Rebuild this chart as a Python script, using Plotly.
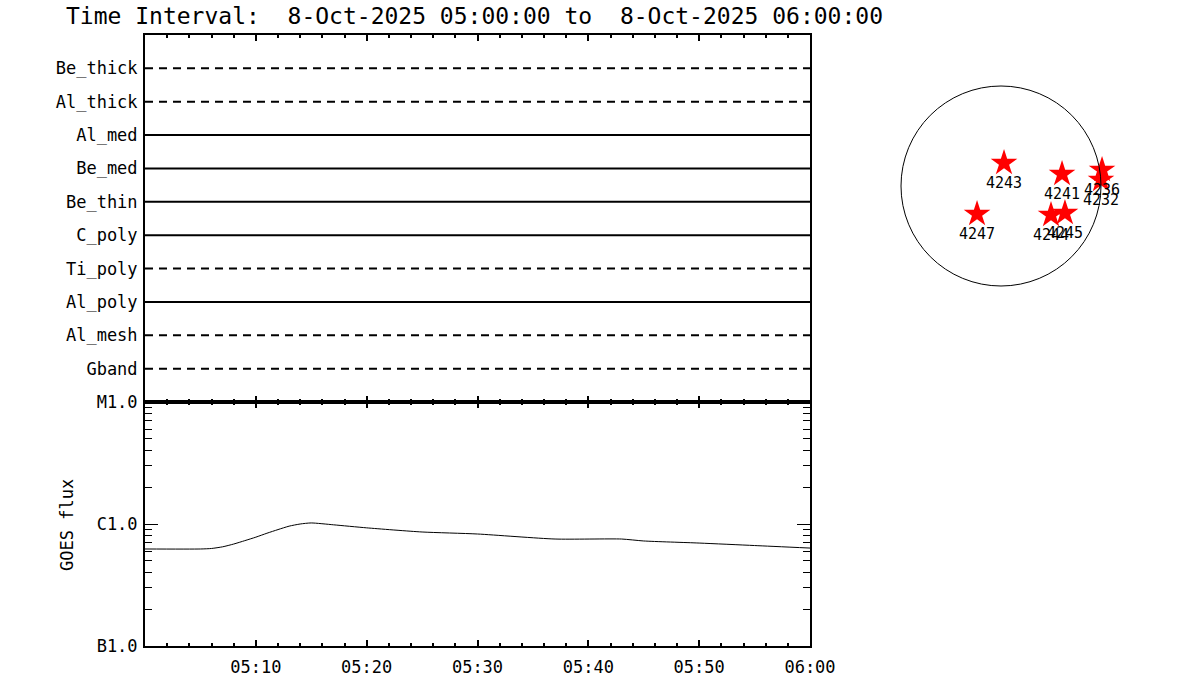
import plotly.graph_objects as go

# ---------------- data ----------------
DATE = "2025-10-08"
T_START = "05:00:00"
T_END = "06:00:00"

# filter channels, bottom (y=1) to top (y=10)
channels = ["Gband", "Al_mesh", "Al_poly", "Ti_poly", "C_poly",
            "Be_thin", "Be_med", "Al_med", "Al_thick", "Be_thick"]
dashed_channels = ["Gband", "Al_mesh", "Ti_poly", "Al_thick", "Be_thick"]

# GOES 1-8 A flux
goes_times = ["05:00", "05:05", "05:06", "05:07", "05:08", "05:09", "05:10",
              "05:11", "05:12", "05:13", "05:14", "05:15", "05:17", "05:20",
              "05:25", "05:30", "05:37", "05:43", "05:45", "05:50", "05:55",
              "06:00"]
goes_flux = [6.24e-7, 6.24e-7, 6.3e-7, 6.5e-7, 6.85e-7, 7.3e-7, 7.8e-7,
             8.4e-7, 9.0e-7, 9.6e-7, 1.0e-6, 1.02e-6, 9.85e-7, 9.3e-7,
             8.6e-7, 8.28e-7, 7.53e-7, 7.53e-7, 7.26e-7, 6.98e-7, 6.66e-7,
             6.35e-7]

goes_tickvals = [1e-7, 1e-6, 1e-5]
goes_ticktext = ["B1.0", "C1.0", "M1.0"]

time_ticks = ["05:10", "05:20", "05:30", "05:40", "05:50", "06:00"]

# active regions (arcsec from disk centre)
RSUN = 960.0
region_ids = ["4243", "4241", "4236", "4232", "4247", "4244", "4245"]
region_x = [29, 586, 970, 960, -230, 480, 614]
region_y = [221, 115, 154, 58, -269, -278, -259]

title_text = "Time Interval:  8-Oct-2025 05:00:00 to  8-Oct-2025 06:00:00"

# ---------------- figure ----------------
W, H = 1200, 700
FONT = "DejaVu Sans Mono"


def ts(hm):
    if len(hm) == 5:
        hm = hm + ":00"
    return f"{DATE} {hm}"


t0, t1 = ts(T_START), ts(T_END)

fig = go.Figure()

for i, name in enumerate(channels):
    fig.add_trace(go.Scatter(
        x=[t0, t1], y=[i + 1, i + 1], mode="lines",
        line=dict(color="black", width=2,
                  dash="8px,6px" if name in dashed_channels else "solid"),
        xaxis="x", yaxis="y", hoverinfo="skip"))

fig.add_trace(go.Scatter(
    x=[ts(t) for t in goes_times], y=goes_flux, mode="lines",
    line=dict(color="black", width=1, shape="spline", smoothing=0.6),
    xaxis="x2", yaxis="y2"))

fig.add_trace(go.Scatter(
    x=region_x, y=region_y, mode="markers+text", text=region_ids,
    textposition="bottom center",
    textfont=dict(family=FONT, size=15, color="black"),
    marker=dict(symbol="star", size=20, color="red", line=dict(width=0)),
    xaxis="x3", yaxis="y3"))

fig.add_shape(type="circle", xref="x3", yref="y3",
              x0=-RSUN, x1=RSUN, y0=-RSUN, y1=RSUN,
              line=dict(color="black", width=1))

xdom = [145 / W, 810 / W]
top_dom = [1 - 402 / H, 1 - 35 / H]
bot_dom = [1 - 646 / H, 1 - 402 / H]
tickfont = dict(family=FONT, size=17, color="black")

common_x = dict(
    domain=xdom, type="date", range=[t0, t1], automargin=False,
    tickmode="array", tickvals=[ts(t) for t in time_ticks],
    ticks="inside", ticklen=6, tickwidth=2, tickcolor="black",
    minor=dict(ticks="inside", ticklen=3, tickwidth=2, tickcolor="black",
               dtick=120000, tick0=t0, showgrid=False),
    showline=True, linewidth=2, linecolor="black", mirror="ticks",
    showgrid=False, zeroline=False, tickfont=tickfont)

fig.update_layout(
    width=W, height=H,
    margin=dict(l=0, r=0, t=0, b=0, pad=0, autoexpand=False),
    paper_bgcolor="white", plot_bgcolor="white", showlegend=False,
    xaxis=dict(common_x, anchor="y", showticklabels=False),
    xaxis2=dict(common_x, anchor="y2", ticktext=time_ticks,
                ticklabelstandoff=5),
    yaxis=dict(domain=top_dom, range=[0, 11], tickmode="array",
               tickvals=list(range(1, len(channels) + 1)), ticktext=channels,
               ticks="", showline=True, linewidth=2, linecolor="black",
               mirror=True, showgrid=False, zeroline=False, automargin=False,
               tickfont=tickfont, ticklabelstandoff=2),
    yaxis2=dict(domain=bot_dom, type="log", range=[-7, -5],
                tickmode="array", tickvals=goes_tickvals,
                ticktext=goes_ticktext, ticks="inside", ticklen=13,
                tickwidth=1, tickcolor="black", automargin=False,
                minor=dict(ticks="inside", ticklen=7, tickwidth=1,
                           tickcolor="black",
                           tickvals=[k * 10.0 ** e for e in (-7, -6)
                                     for k in range(2, 10)],
                           showgrid=False),
                showline=True, linewidth=2, linecolor="black",
                mirror="ticks", showgrid=False, zeroline=False,
                tickfont=tickfont, ticklabelstandoff=2),
    xaxis3=dict(domain=[876 / W, 1126 / W], range=[-1200, 1200],
                visible=False, anchor="y3", automargin=False),
    yaxis3=dict(domain=[1 - 311 / H, 1 - 61 / H], range=[-1200, 1200],
                visible=False, anchor="x3", automargin=False),
    annotations=[
        dict(text=title_text, xref="paper", yref="paper", x=64 / W,
             y=1 - 16 / H, xanchor="left", yanchor="middle",
             showarrow=False, font=dict(family=FONT, size=23, color="black")),
        dict(text="GOES flux", xref="paper", yref="paper", x=67 / W,
             y=1 - 525 / H, xanchor="center", yanchor="middle",
             textangle=-90, showarrow=False,
             font=dict(family=FONT, size=17, color="black")),
    ],
)

fig.write_html("out.html", config={"displayModeBar": False},
               post_script="document.body.style.margin='0px';")
